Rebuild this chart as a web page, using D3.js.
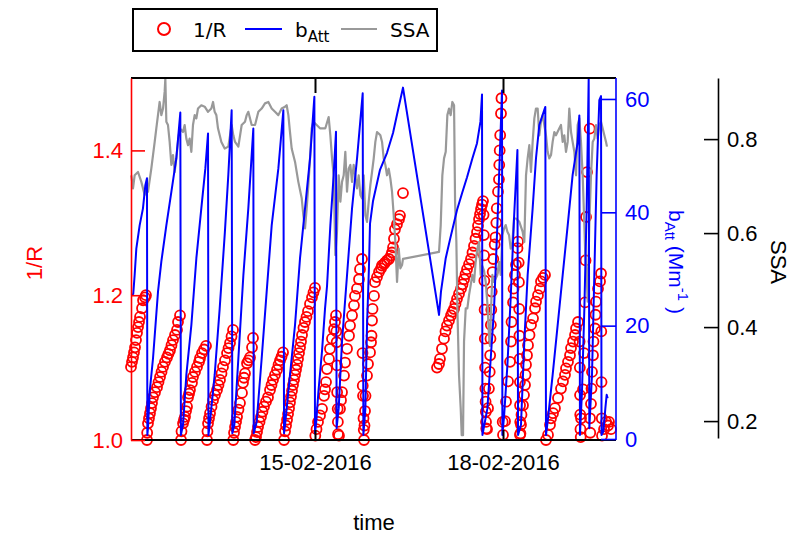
<!DOCTYPE html>
<html><head><meta charset="utf-8">
<script src="https://cdn.jsdelivr.net/npm/d3@7"></script>
<style>body{margin:0;background:#fff} svg{display:block}</style>
</head><body>
<svg id="c" width="795" height="541"></svg>
<script>
// time values are decimal days of February 2016
const ratioData = [
[12.064,1.101],[12.080,1.108],[12.096,1.114],[12.112,1.121],[12.128,1.128],[12.144,1.138],[12.160,1.148],[12.176,1.156],[12.192,1.163],[12.208,1.170],[12.240,1.182],[12.256,1.193],[12.287,1.197],[12.303,1.200],
[12.319,1.000],[12.322,1.010],[12.335,1.023],[12.351,1.030],[12.367,1.037],[12.383,1.044],[12.399,1.051],[12.415,1.059],[12.447,1.066],[12.479,1.073],[12.503,1.080],[12.527,1.087],[12.551,1.094],[12.575,1.101],[12.606,1.108],[12.638,1.114],[12.662,1.119],[12.686,1.124],[12.710,1.131],[12.734,1.138],[12.766,1.145],[12.798,1.152],[12.814,1.163],[12.846,1.172],
[12.862,1.000],[12.870,1.012],[12.894,1.023],[12.910,1.028],[12.926,1.032],[12.942,1.040],[12.958,1.046],[12.974,1.059],[12.990,1.064],[13.005,1.069],[13.037,1.079],[13.053,1.087],[13.085,1.094],[13.117,1.101],[13.149,1.108],[13.165,1.113],[13.197,1.120],[13.229,1.125],[13.261,1.130],
[13.277,1.000],[13.284,1.012],[13.293,1.023],[13.309,1.030],[13.325,1.037],[13.349,1.046],[13.373,1.055],[13.404,1.062],[13.436,1.069],[13.460,1.076],[13.484,1.083],[13.508,1.092],[13.532,1.101],[13.564,1.110],[13.596,1.120],[13.620,1.127],[13.644,1.134],[13.668,1.143],[13.692,1.152],
[13.696,1.000],[13.708,1.010],[13.724,1.018],[13.740,1.025],[13.756,1.032],[13.779,1.042],[13.803,1.051],[13.835,1.065],[13.851,1.079],[13.867,1.086],[13.883,1.092],[13.915,1.106],[13.939,1.110],[13.963,1.114],[13.995,1.128],[14.011,1.141],
[14.043,1.000],[14.059,1.004],[14.075,1.011],[14.091,1.018],[14.115,1.025],[14.138,1.032],[14.162,1.039],[14.186,1.046],[14.218,1.053],[14.250,1.059],[14.282,1.069],[14.306,1.076],[14.330,1.083],[14.362,1.090],[14.394,1.097],[14.418,1.104],[14.442,1.110],[14.466,1.115],[14.490,1.121],
[14.506,1.000],[14.522,1.012],[14.538,1.020],[14.554,1.028],[14.570,1.036],[14.586,1.044],[14.601,1.052],[14.617,1.060],[14.633,1.068],[14.649,1.076],[14.665,1.083],[14.681,1.090],[14.697,1.097],[14.713,1.104],[14.729,1.112],[14.745,1.120],[14.761,1.128],[14.777,1.136],[14.793,1.145],[14.816,1.155],[14.840,1.163],[14.864,1.170],[14.888,1.178],[14.920,1.188],[14.952,1.197],[14.976,1.204],[15.000,1.210],
[15.005,1.006],[15.024,1.015],[15.048,1.025],[15.080,1.034],[15.112,1.043],[15.144,1.061],[15.160,1.070],[15.176,1.080],[15.191,1.098],[15.223,1.112],[15.239,1.126],[15.271,1.140],[15.303,1.153],[15.319,1.163],[15.335,1.172],[15.340,1.150],[15.345,1.135],[15.351,1.103],[15.353,1.066],[15.362,1.043],[15.365,1.025],[15.367,1.008],
[15.383,1.006],[15.399,1.043],[15.415,1.055],[15.431,1.066],[15.463,1.089],[15.479,1.107],[15.511,1.126],[15.543,1.144],[15.559,1.158],[15.591,1.172],[15.622,1.186],[15.638,1.199],[15.670,1.209],[15.702,1.222],[15.718,1.236],[15.750,1.250],[15.758,1.120],[15.762,1.075],[15.766,1.061],[15.774,1.030],[15.778,1.014],[15.782,1.000],
[15.790,1.020],[15.798,1.040],[15.806,1.061],[15.830,1.089],[15.846,1.105],[15.878,1.121],[15.894,1.135],[15.902,1.144],[15.910,1.165],[15.918,1.181],[15.942,1.199],[15.957,1.218],[15.989,1.225],[16.021,1.232],[16.053,1.237],[16.069,1.241],[16.101,1.243],[16.117,1.245],[16.149,1.248],[16.181,1.250],[16.213,1.255],[16.229,1.259],[16.245,1.266],[16.260,1.278],[16.276,1.291],[16.308,1.298],[16.340,1.305],[16.356,1.310],[16.404,1.341],
[16.947,1.100],[16.979,1.105],[16.994,1.112],[17.026,1.126],[17.058,1.140],[17.082,1.150],[17.106,1.158],[17.138,1.165],[17.170,1.172],[17.194,1.177],[17.218,1.181],[17.242,1.188],[17.266,1.195],[17.298,1.202],[17.330,1.209],[17.354,1.215],[17.378,1.222],[17.402,1.229],[17.426,1.236],[17.458,1.243],[17.489,1.250],[17.513,1.259],[17.537,1.268],[17.561,1.278],[17.585,1.287],[17.601,1.296],[17.617,1.305],[17.633,1.312],[17.649,1.319],[17.665,1.325],[17.681,1.330],
[17.690,1.311],[17.694,1.283],[17.698,1.255],[17.702,1.220],[17.706,1.180],[17.710,1.140],[17.714,1.100],[17.718,1.071],[17.722,1.053],[17.726,1.039],[17.729,1.025],[17.733,1.016],
[17.745,1.015],[17.761,1.044],[17.775,1.071],[17.788,1.094],[17.795,1.117],[17.800,1.140],[17.806,1.159],[17.813,1.180],[17.820,1.205],[17.835,1.232],[17.845,1.250],[17.867,1.270],[17.880,1.280],[17.893,1.300],[17.900,1.320],[17.920,1.343],[17.935,1.360],[17.940,1.380],[17.947,1.400],[17.955,1.421],[17.968,1.451],[17.975,1.472],[17.995,1.025],
[18.000,1.007],[18.032,1.026],[18.048,1.053],[18.080,1.081],[18.112,1.108],[18.128,1.136],[18.136,1.163],[18.160,1.190],[18.168,1.209],[18.191,1.228],[18.207,1.242],[18.231,1.265],[18.239,1.274],
[18.250,1.245],[18.254,1.218],[18.258,1.181],[18.262,1.144],[18.266,1.112],[18.270,1.080],[18.272,1.048],[18.275,1.025],[18.278,1.009],
[18.271,1.007],[18.287,1.021],[18.295,1.035],[18.319,1.048],[18.335,1.062],[18.351,1.076],[18.359,1.090],[18.367,1.104],[18.383,1.117],[18.399,1.131],[18.423,1.145],[18.447,1.159],[18.479,1.168],[18.511,1.182],[18.527,1.191],[18.558,1.200],[18.590,1.209],[18.606,1.219],[18.638,1.224],[18.670,1.228],
[18.686,1.000],[18.718,1.007],[18.750,1.021],[18.766,1.030],[18.798,1.037],[18.829,1.044],[18.877,1.058],[18.925,1.071],[18.957,1.081],[18.989,1.090],[19.005,1.099],[19.037,1.108],[19.069,1.117],[19.085,1.127],[19.117,1.136],[19.149,1.145],[19.165,1.154],[19.197,1.163],
[19.222,1.136],[19.226,1.100],[19.229,1.062],[19.232,1.035],[19.236,1.015],[19.240,1.004],[19.245,1.030],[19.277,1.070],[19.293,1.120],[19.309,1.190],[19.317,1.248],[19.325,1.308],[19.341,1.370],[19.383,1.430],[19.388,1.030],[19.392,1.010],
[19.404,1.050],[19.412,1.071],[19.420,1.094],[19.436,1.117],[19.444,1.136],[19.468,1.154],[19.476,1.173],[19.484,1.191],[19.516,1.209],[19.548,1.219],[19.564,1.230],[19.568,1.150],[19.572,1.080],[19.576,1.030],[19.580,1.006],
[19.612,1.015],[19.644,1.025],[19.676,1.020],[19.691,1.025],[19.723,1.015]
];

const battData = [
[12.069,25.4],[12.100,25.6],[12.122,28.9],[12.149,33.6],[12.202,37.7],[12.255,40.7],[12.293,44.8],[12.319,46.0],[12.325,0.7],
[12.335,1.9],[12.362,8.3],[12.415,14.2],[12.495,26.0],[12.548,31.3],[12.628,37.7],[12.708,43.6],[12.787,49.5],[12.851,57.6],[12.860,0.7],
[12.894,2.5],[12.947,11.3],[13.027,20.1],[13.107,31.9],[13.186,40.7],[13.250,47.7],[13.293,53.9],[13.300,0.7],
[13.319,2.5],[13.399,11.3],[13.479,23.0],[13.562,36.5],[13.617,46.6],[13.670,58.0],[13.681,1.0],
[13.713,2.5],[13.777,14.2],[13.857,28.9],[13.936,40.7],[14.016,54.8],[14.022,1.0],
[14.069,3.0],[14.149,14.2],[14.229,26.0],[14.309,37.7],[14.415,47.7],[14.495,58.0],[14.506,1.0],
[14.522,2.5],[14.601,11.3],[14.681,20.1],[14.761,31.9],[14.841,40.7],[14.921,49.5],[14.990,60.4],[15.000,1.0],
[15.020,3.0],[15.054,8.3],[15.112,15.5],[15.160,23.0],[15.192,27.0],[15.245,37.7],[15.298,46.6],[15.335,54.2],[15.345,1.9],
[15.378,5.4],[15.431,17.2],[15.511,28.9],[15.591,40.7],[15.671,49.5],[15.761,61.0],[15.772,0.7],
[15.804,5.4],[15.830,20.0],[15.860,30.0],[15.878,38.0],[15.926,42.0],[16.037,47.5],[16.149,50.5],[16.245,54.0],[16.324,58.0],[16.404,62.0],
[16.979,21.9],[17.010,26.0],[17.086,31.9],[17.150,35.0],[17.266,40.4],[17.350,43.5],[17.426,46.2],[17.511,49.5],[17.585,52.2],[17.640,56.0],[17.665,60.8],[17.672,0.7],
[17.751,5.4],[17.804,14.2],[17.857,23.0],[17.910,37.7],[17.947,49.5],[17.984,61.5],[17.990,0.7],
[18.017,4.0],[18.070,13.0],[18.123,25.0],[18.176,39.0],[18.230,51.0],[18.240,0.7],
[18.287,2.5],[18.340,17.2],[18.393,28.9],[18.473,40.7],[18.526,49.5],[18.579,55.4],[18.675,58.6],[18.686,0.7],
[18.712,3.0],[18.792,11.3],[18.872,20.1],[18.952,28.9],[19.032,37.7],[19.111,46.6],[19.191,52.4],[19.218,57.1],[19.228,0.7],
[19.260,8.3],[19.298,23.0],[19.335,40.7],[19.367,63.6],[19.377,1.9],
[19.420,11.3],[19.457,28.9],[19.494,46.6],[19.537,59.8],[19.564,60.5],[19.572,0.7],
[19.601,1.3],[19.633,5.4],[19.654,7.8],[19.670,7.2]
];

const ssaData = [
[12.069,0.723],[12.096,0.695],[12.122,0.723],[12.176,0.730],[12.229,0.709],[12.282,0.681],[12.309,0.695],[12.335,0.688],[12.388,0.737],[12.442,0.794],[12.468,0.823],[12.521,0.879],[12.548,0.851],[12.575,0.865],[12.601,0.901],[12.612,0.929],[12.628,0.837],[12.654,0.830],[12.681,0.794],[12.708,0.745],[12.734,0.766],[12.761,0.730],[12.787,0.759],[12.814,0.794],[12.841,0.823],[12.894,0.815],[12.920,0.830],[12.947,0.801],[12.974,0.787],[13.000,0.801],[13.027,0.773],[13.053,0.830],[13.080,0.851],[13.107,0.844],[13.133,0.865],[13.186,0.872],[13.240,0.869],[13.293,0.858],[13.346,0.865],[13.373,0.879],[13.399,0.858],[13.426,0.851],[13.452,0.823],[13.506,0.794],[13.559,0.780],
[13.617,0.784],[13.670,0.830],[13.697,0.808],[13.724,0.794],[13.777,0.784],[13.830,0.830],[13.883,0.837],[13.910,0.851],[13.936,0.858],[13.990,0.830],[14.043,0.830],[14.096,0.858],[14.149,0.865],[14.202,0.876],[14.256,0.879],[14.309,0.865],[14.362,0.858],[14.415,0.851],[14.468,0.865],[14.522,0.869],[14.548,0.872],[14.575,0.851],[14.601,0.815],[14.628,0.780],[14.681,0.752],[14.734,0.709],[14.788,0.674],[14.814,0.638],[14.841,0.610],[14.867,0.652],[14.894,0.702],[14.921,0.759],[14.947,0.823],[14.974,0.837],[15.027,0.830],[15.080,0.823],
[15.165,0.823],[15.218,0.847],[15.245,0.808],[15.272,0.759],[15.298,0.723],[15.325,0.553],[15.351,0.603],[15.378,0.723],[15.405,0.667],[15.431,0.709],[15.458,0.723],[15.484,0.773],[15.511,0.688],[15.538,0.737],[15.564,0.745],[15.591,0.709],[15.617,0.745],[15.644,0.723],[15.671,0.695],[15.697,0.723],[15.724,0.681],[15.750,0.674],[15.777,0.723],[15.804,0.638],[15.830,0.624],[15.857,0.667],[15.883,0.702],[15.910,0.730],[15.937,0.759],[15.963,0.794],[15.990,0.815],[16.016,0.812],[16.043,0.808],[16.070,0.794],[16.096,0.759],[16.123,0.745],[16.149,0.723],[16.176,0.737],[16.203,0.716],[16.229,0.688],[16.256,0.638],[16.282,0.581],[16.309,0.496],[16.336,0.567],[16.362,0.525],[16.389,0.532],[16.404,0.545],
[16.979,0.560],[17.006,0.617],[17.032,0.723],[17.059,0.759],[17.086,0.773],[17.112,0.851],[17.139,0.865],[17.165,0.851],[17.192,0.879],[17.219,0.872],[17.235,0.667],[17.256,0.581],[17.272,0.440],[17.298,0.298],[17.325,0.227],[17.341,0.170],[17.362,0.170],[17.378,0.369],[17.405,0.440],[17.431,0.440],[17.458,0.468],[17.511,0.511],[17.538,0.496],[17.564,0.539],[17.591,0.567],[17.618,0.581],[17.644,0.511],[17.671,0.530],[17.697,0.520],[17.724,0.496],[17.751,0.450],[17.777,0.380],[17.792,0.360],[17.810,0.440],[17.830,0.511],[17.857,0.496],[17.910,0.511],[17.937,0.539],[17.963,0.511],[17.990,0.596],[18.017,0.610],[18.043,0.617],[18.070,0.603],[18.096,0.596],[18.123,0.567],[18.150,0.581],[18.176,0.631],[18.207,0.631],[18.260,0.624],[18.313,0.603],[18.340,0.581],[18.367,0.723],[18.393,0.759],[18.420,0.787],[18.446,0.730],[18.473,0.794],[18.500,0.844],[18.526,0.865],[18.553,0.865],[18.579,0.808],[18.606,0.837],[18.633,0.851],[18.659,0.830],[18.686,0.808],[18.712,0.773],[18.739,0.759],[18.766,0.766],[18.792,0.794],[18.819,0.815],[18.845,0.808],[18.899,0.823],[18.925,0.830],[18.952,0.794],[18.978,0.808],[19.005,0.773],[19.032,0.794],[19.058,0.865],[19.085,0.815],[19.111,0.794],[19.138,0.773],[19.165,0.723],[19.191,0.830],[19.218,0.844],[19.244,0.794],[19.271,0.723],[19.298,0.617],[19.313,0.553],[19.335,0.511],[19.351,0.454],[19.377,0.617],[19.404,0.723],[19.431,0.794],[19.457,0.801],[19.484,0.830],[19.510,0.801],[19.537,0.830],[19.564,0.837],[19.590,0.823],[19.617,0.808],[19.644,0.794],[19.659,0.784]
];

const ratioTicks = [1.0, 1.2, 1.4];
const battTicks = [0, 20, 40, 60];
const ssaTicks = [0.2, 0.4, 0.6, 0.8];
const dateTicks = [15, 18];
const dayDomain = [12.064, 19.787];
const ratioDomain = [1.0, 1.5];
const battDomain = [0, 63.7];
const ssaDomain = [0.164, 0.93];

const toDate = d => new Date(Date.UTC(2016, 1, 1) + (d - 1) * 864e5);

const svg = d3.select("#c");
const L = 131, R = 615, T = 78, B = 440;
const FONT = "'Liberation Sans', Arial, Helvetica, sans-serif";

const x = d3.scaleUtc().domain(dayDomain.map(toDate)).range([L, R]);
const yR = d3.scaleLinear().domain(ratioDomain).range([B, T]);
const yB = d3.scaleLinear().domain(battDomain).range([439, T]);
const yS = d3.scaleLinear().domain(ssaDomain).range([438, T]);

// data
svg.append("g").selectAll("circle").data(ratioData).join("circle")
  .attr("cx", d => x(toDate(d[0]))).attr("cy", d => yR(d[1])).attr("r", 5)
  .attr("fill", "none").attr("stroke", "#ff0000").attr("stroke-width", 1.8);

svg.append("path").datum(ssaData)
  .attr("d", d3.line().x(d => x(toDate(d[0]))).y(d => yS(d[1])))
  .attr("fill", "none").attr("stroke", "#999999").attr("stroke-width", 2.2).attr("stroke-linejoin", "round");

svg.append("path").datum(battData)
  .attr("d", d3.line().x(d => x(toDate(d[0]))).y(d => yB(d[1])))
  .attr("fill", "none").attr("stroke", "#0000ff").attr("stroke-width", 2).attr("stroke-linejoin", "round");

function styleAxis(g, color, width, fs) {
  g.selectAll("path.domain").attr("stroke", color).attr("stroke-width", width);
  g.selectAll(".tick line").attr("stroke", color).attr("stroke-width", width);
  g.selectAll(".tick text").attr("fill", color).style("font-family", FONT).style("font-size", fs + "px");
}

// bottom / top axes
const gb = svg.append("g").attr("transform", `translate(0,${B})`)
  .call(d3.axisBottom(x).tickValues(dateTicks.map(toDate)).tickSize(-10).tickSizeOuter(0).tickPadding(14)
    .tickFormat(d3.utcFormat("%d-%m-%Y")));
styleAxis(gb, "#000", 2, 22);
gb.select("path.domain").attr("d", `M${L},0H616`);
const gt = svg.append("g").attr("transform", `translate(0,${T})`)
  .call(d3.axisTop(x).tickValues(dateTicks.map(toDate)).tickSize(-15).tickSizeOuter(0).tickFormat(() => ""));
styleAxis(gt, "#000", 2, 22);
gt.select("path.domain").attr("d", `M${L},0H616`);

// left 1/R axis
const gl = svg.append("g").attr("transform", `translate(${L},0)`)
  .call(d3.axisLeft(yR).tickValues(ratioTicks).tickSize(-14).tickSizeOuter(0).tickPadding(8).tickFormat(d3.format(".1f")));
styleAxis(gl, "#ff0000", 1.6, 22);

// right bAtt axis
const gr = svg.append("g").attr("transform", "translate(616,0)")
  .call(d3.axisRight(yB).tickValues(battTicks).tickSize(-15).tickSizeOuter(0).tickPadding(9).tickFormat(d3.format("d")));
styleAxis(gr, "#0000ff", 1.6, 22);
gr.select("path.domain").attr("d", `M0,${T}V${B}`);

// SSA axis
const gs = svg.append("g").attr("transform", "translate(718,0)")
  .call(d3.axisRight(yS).tickValues(ssaTicks).tickSize(-14).tickSizeOuter(0).tickPadding(9).tickFormat(d3.format(".1f")));
styleAxis(gs, "#000", 1.6, 22);

// titles
svg.append("text").attr("transform", "translate(42,263) rotate(-90)").attr("text-anchor", "middle")
  .attr("fill", "#ff0000").style("font-family", FONT).style("font-size", "22px").text("1/R");

const bt = svg.append("text").attr("transform", "translate(669,262) rotate(90)").attr("text-anchor", "middle")
  .attr("fill", "#0000ff").style("font-family", FONT).style("font-size", "21px");
bt.append("tspan").text("b");
bt.append("tspan").attr("dy", 4).style("font-size", "15px").text("Att");
bt.append("tspan").attr("dy", -4).text(" (Mm");
bt.append("tspan").attr("dy", -9).style("font-size", "15px").text("-1");
bt.append("tspan").attr("dy", 9).text(" )");

svg.append("text").attr("transform", "translate(771,262) rotate(90)").attr("text-anchor", "middle")
  .attr("fill", "#000").style("font-family", FONT).style("font-size", "22px").text("SSA");

svg.append("text").attr("x", 374).attr("y", 530).attr("text-anchor", "middle")
  .attr("fill", "#000").style("font-family", FONT).style("font-size", "22px").text("time");

// legend
const LF = "'DejaVu Sans', Verdana, sans-serif";
const lg = svg.append("g");
lg.append("rect").attr("x", 133).attr("y", 9).attr("width", 304).attr("height", 42)
  .attr("fill", "#fff").attr("stroke", "#000").attr("stroke-width", 2);
lg.append("circle").attr("cx", 164).attr("cy", 29).attr("r", 6)
  .attr("fill", "none").attr("stroke", "#ff0000").attr("stroke-width", 2);
lg.append("text").attr("x", 193).attr("y", 37).style("font-family", LF).style("font-size", "20px").text("1/R");
lg.append("line").attr("x1", 245).attr("x2", 282).attr("y1", 29).attr("y2", 29).attr("stroke", "#0000ff").attr("stroke-width", 2);
const lb = lg.append("text").attr("x", 295).attr("y", 37).style("font-family", LF).style("font-size", "20px");
lb.append("tspan").text("b");
lb.append("tspan").attr("dy", 5).style("font-size", "15px").text("Att");
lg.append("line").attr("x1", 341).attr("x2", 377).attr("y1", 29).attr("y2", 29).attr("stroke", "#999999").attr("stroke-width", 2);
lg.append("text").attr("x", 390).attr("y", 37).style("font-family", LF).style("font-size", "20px").text("SSA");
</script>
</body></html>
